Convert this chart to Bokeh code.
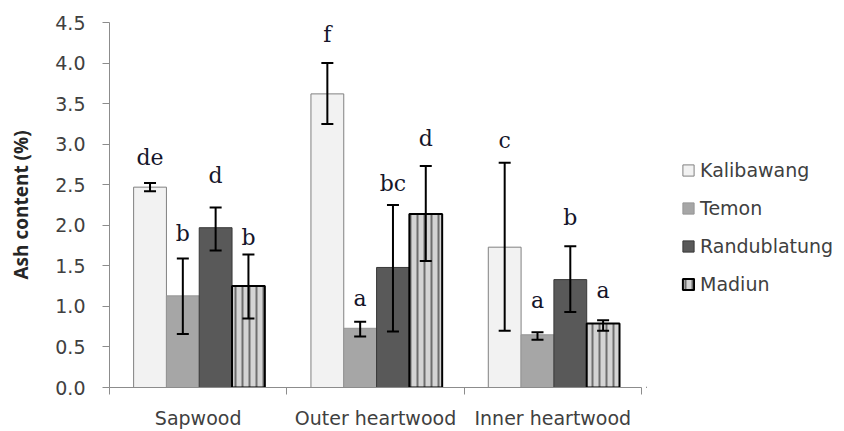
from bokeh.plotting import figure
from bokeh.models import (ColumnDataSource, Whisker, TeeHead, FixedTicker, NumeralTickFormatter,
                          Legend, LegendItem, Range1d)
from bokeh.layouts import row
from bokeh.embed import file_html
from bokeh.resources import INLINE
from bokeh.core.properties import value

categories = ["Sapwood", "Outer heartwood", "Inner heartwood"]
series = ["Kalibawang", "Temon", "Randublatung", "Madiun"]

kalibawang = [2.47, 3.62, 1.73]
kalibawang_lo = [2.42, 3.25, 0.70]
kalibawang_hi = [2.52, 4.00, 2.77]
kalibawang_letters = ["de", "f", "c"]
kalibawang_label_y = [2.83, 4.35, 3.04]

temon = [1.13, 0.73, 0.65]
temon_lo = [0.66, 0.63, 0.59]
temon_hi = [1.59, 0.81, 0.68]
temon_letters = ["b", "a", "a"]
temon_label_y = [1.90, 1.10, 1.07]

randublatung = [1.97, 1.48, 1.33]
randublatung_lo = [1.69, 0.69, 0.93]
randublatung_hi = [2.22, 2.25, 1.74]
randublatung_letters = ["d", "bc", "b"]
randublatung_label_y = [2.61, 2.52, 2.10]

madiun = [1.25, 2.14, 0.79]
madiun_lo = [0.85, 1.56, 0.70]
madiun_hi = [1.64, 2.73, 0.83]
madiun_letters = ["b", "d", "a"]
madiun_label_y = [1.85, 3.07, 1.20]

y_ticks = [0.0, 0.5, 1.0, 1.5, 2.0, 2.5, 3.0, 3.5, 4.0, 4.5]

data = [
    (kalibawang, kalibawang_lo, kalibawang_hi, kalibawang_letters, kalibawang_label_y),
    (temon, temon_lo, temon_hi, temon_letters, temon_label_y),
    (randublatung, randublatung_lo, randublatung_hi, randublatung_letters, randublatung_label_y),
    (madiun, madiun_lo, madiun_hi, madiun_letters, madiun_label_y),
]

styles = [
    dict(fill_color="#f2f2f2", line_color="#808080", line_width=1),
    dict(fill_color="#a6a6a6", line_color="#969696", line_width=1),
    dict(fill_color="#595959", line_color="#383838", line_width=1),
    dict(fill_color="#d4d4d4", line_color="#000000", line_width=2,
         hatch_pattern="vertical_line", hatch_color="#6e6e6e", hatch_scale=7, hatch_weight=2),
]

p = figure(width=646, height=431, output_backend="svg", toolbar_location=None,
           x_range=Range1d(0, 3), y_range=Range1d(0, 4.5),
           min_border_left=109, min_border_right=5, min_border_top=22, min_border_bottom=43)
p.outline_line_color = None
p.xgrid.visible = False
p.ygrid.visible = False

# legend-only companion figure
q = figure(width=198, height=431, output_backend="svg", toolbar_location=None,
           x_range=Range1d(0, 1), y_range=Range1d(0, 1),
           min_border_left=0, min_border_right=0, min_border_top=0, min_border_bottom=0)
q.outline_line_color = None
q.axis.visible = False
q.xgrid.visible = False
q.ygrid.visible = False

bar_w = 0.185
start = 0.136
legend_items = []
for k, (vals, lo, hi, letters, ly) in enumerate(data):
    xs = [i + start + bar_w * (k + 0.5) for i in range(len(categories))]
    src = ColumnDataSource(dict(x=xs, top=vals, lo=lo, hi=hi, letters=letters, ly=ly))
    p.vbar(x="x", top="top", bottom=0, width=bar_w, source=src, **styles[k])
    w = Whisker(base="x", upper="hi", lower="lo", source=src, dimension="height",
                line_color="black", line_width=2, level="overlay",
                upper_head=TeeHead(size=12, line_width=2, line_color="black"),
                lower_head=TeeHead(size=12, line_width=2, line_color="black"))
    p.add_layout(w)
    p.text(x="x", y="ly", text="letters", source=src, text_align="center", text_baseline="middle",
           text_font=value("DejaVu Serif"), text_font_size="22px", text_color="#15152a")
    # off-canvas proxy bar so the legend has a swatch to draw
    rq = q.vbar(x=[-5], top=[0], bottom=0, width=0.1, **styles[k])
    legend_items.append(LegendItem(label=series[k], renderers=[rq]))

# x axis: category names at group centres, tick marks at group boundaries
ax = p.xaxis[0]
ax.ticker = FixedTicker(ticks=[0.5, 1.5, 2.5], minor_ticks=[0, 1, 2, 3])
ax.major_label_overrides = {0.5: categories[0], 1.5: categories[1], 2.5: categories[2]}
ax.major_tick_in = 0
ax.major_tick_out = 0
ax.minor_tick_in = 0
ax.minor_tick_out = 7
ax.axis_line_color = "#8c8c8c"
ax.minor_tick_line_color = "#8c8c8c"
ax.major_label_text_font = "DejaVu Sans"
ax.major_label_text_font_size = "19px"
ax.major_label_text_color = "#404040"
ax.major_label_standoff = 12

ay = p.yaxis[0]
ay.ticker = FixedTicker(ticks=y_ticks)
ay.formatter = NumeralTickFormatter(format="0.0")
ay.major_tick_in = 0
ay.major_tick_out = 7
ay.minor_tick_out = 0
ay.minor_tick_in = 0
ay.axis_line_color = "#8c8c8c"
ay.major_tick_line_color = "#8c8c8c"
ay.major_label_text_font = "DejaVu Sans"
ay.major_label_text_font_size = "19px"
ay.major_label_text_color = "#404040"
ay.major_label_standoff = 17
ay.axis_label = "Ash content (%)"
ay.axis_label_text_font = "Open Sans"
ay.axis_label_text_font_style = "bold"
ay.axis_label_text_font_size = "19px"
ay.axis_label_text_color = "#262626"
ay.axis_label_standoff = 18

legend = Legend(items=legend_items, location=(35, 92), orientation="vertical",
                label_text_font="DejaVu Sans", label_text_font_size="19px",
                label_text_color="#404040", glyph_width=14, glyph_height=14,
                label_standoff=5, spacing=16, padding=0, margin=0,
                border_line_color=None, background_fill_alpha=0)
q.add_layout(legend, "center")

layout = row(p, q)
open("out.html", "w").write(file_html(layout, INLINE))
